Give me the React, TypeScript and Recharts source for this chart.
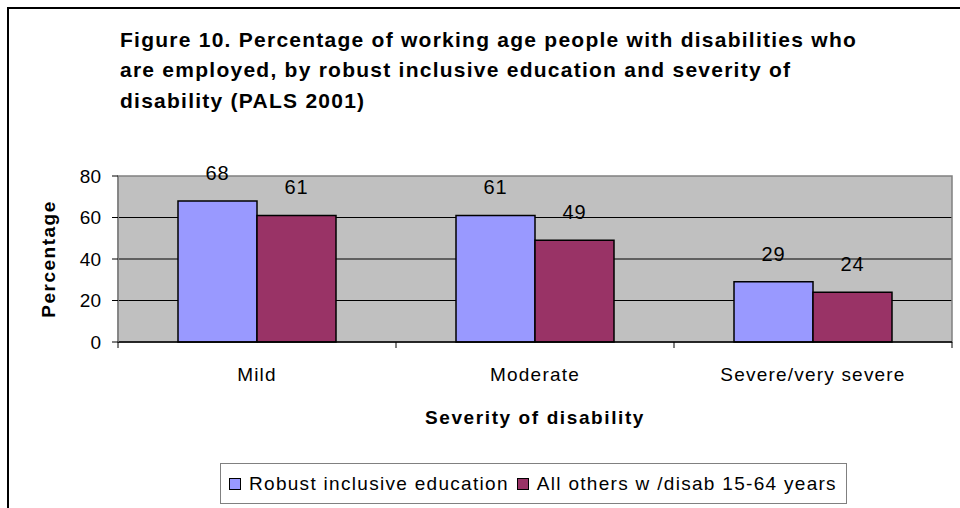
import { BarChart, Bar, XAxis, YAxis, CartesianGrid, ReferenceArea, LabelList, Legend } from 'recharts';

const severity = ['Mild', 'Moderate', 'Severe/very severe'];
const robustInclusive = [68, 61, 29];
const allOthers = [61, 49, 24];
const yTicks = [0, 20, 40, 60, 80];
const seriesNames = ['Robust inclusive education', 'All others w /disab 15-64 years'];

const data = severity.map((s, i) => ({ severity: s, robust: robustInclusive[i], others: allOthers[i] }));

const W = 960;
const H = 508;
const MARGIN = { top: 176, right: 8, bottom: 95, left: 58 };
const Y_W = 60;
const X_H = 30;
const BAND = (W - MARGIN.left - Y_W - MARGIN.right) / severity.length;
const FONT = '"Liberation Sans", Arial, sans-serif';

// category labels sit in the middle, tick marks on the band edges (Excel style)
function SeverityTick(props: any) {
  const { x, y, payload, index } = props;
  const half = BAND / 2;
  return (
    <g>
      <line x1={x - half} y1={y} x2={x - half} y2={y + 6} stroke="#000" />
      {index === severity.length - 1 && <line x1={x + half} y1={y} x2={x + half} y2={y + 6} stroke="#000" />}
      <text x={x} y={y + 39} textAnchor="middle" fontSize={19} letterSpacing={1.2} fill="#000">
        {payload.value}
      </text>
    </g>
  );
}

function LegendBox({ payload }: any) {
  // keep series order instead of the default alphabetical sort
  const items = [...(payload || [])].sort(
    (a: any, b: any) => seriesNames.indexOf(a.value) - seriesNames.indexOf(b.value)
  );
  return (
    <div
      style={{
        boxSizing: 'border-box',
        height: 41,
        width: 627,
        border: '1.5px solid #808080',
        background: '#fff',
        display: 'flex',
        alignItems: 'center',
        paddingLeft: 8,
        fontSize: 19,
        letterSpacing: 1.3,
        fontFamily: FONT,
        color: '#000',
        whiteSpace: 'nowrap',
      }}
    >
      {items.map((entry: any) => (
        <span key={entry.value} style={{ display: 'inline-flex', alignItems: 'center', marginRight: 8 }}>
          <span
            style={{
              display: 'inline-block',
              boxSizing: 'border-box',
              width: 12,
              height: 12,
              border: '1.5px solid #000',
              background: entry.color,
              marginRight: 8,
            }}
          />
          {entry.value}
        </span>
      ))}
    </div>
  );
}

export default function App() {
  return (
    <div style={{ position: 'absolute', left: 0, top: 0, width: W, height: H, overflow: 'hidden', background: '#fff', fontFamily: FONT }}>
      <div style={{ position: 'absolute', left: 7, top: 7, width: 1000, height: 600, border: '2px solid #000' }} />
      <div
        style={{
          position: 'absolute',
          left: 120,
          top: 24.5,
          fontSize: 21,
          fontWeight: 'bold',
          letterSpacing: 1.25,
          lineHeight: '30.5px',
          color: '#000',
          zIndex: 2,
          whiteSpace: 'nowrap',
        }}
      >
        Figure 10. Percentage of working age people with disabilities who
        <br />
        are employed, by robust inclusive education and severity of
        <br />
        disability (PALS 2001)
      </div>
      <div style={{ position: 'absolute', left: 0, top: 0 }}>
        <BarChart width={W} height={H} data={data} margin={MARGIN} barGap={0} style={{ fontFamily: FONT }}>
          <CartesianGrid vertical={false} horizontalValues={[20, 40, 60]} stroke="#000" fill="#C0C0C0" fillOpacity={1} />
          <ReferenceArea y1={0} y2={80} fill="none" stroke="#808080" strokeWidth={1.5} ifOverflow="visible" />
          <XAxis
            dataKey="severity"
            height={X_H}
            tickLine={false}
            tickSize={0}
            tickMargin={0}
            interval={0}
            tick={<SeverityTick />}
            axisLine={{ stroke: '#000', strokeWidth: 1.5 }}
            label={{
              content: (p: any) => (
                <text
                  x={p.viewBox.x + p.viewBox.width / 2}
                  y={424}
                  textAnchor="middle"
                  fontSize={19}
                  fontWeight="bold"
                  letterSpacing={1.6}
                  fill="#000"
                >
                  Severity of disability
                </text>
              ),
            }}
          />
          <YAxis
            width={Y_W}
            domain={[0, 80]}
            ticks={yTicks}
            interval={0}
            tick={{ fill: '#000', fontSize: 19 }}
            tickSize={6}
            tickMargin={11}
            tickLine={{ stroke: '#000' }}
            axisLine={{ stroke: '#808080', strokeWidth: 1.5 }}
            label={{
              content: (p: any) => {
                const cy = p.viewBox.y + p.viewBox.height / 2;
                return (
                  <text
                    x={55}
                    y={cy}
                    transform={`rotate(-90, 55, ${cy})`}
                    textAnchor="middle"
                    fontSize={19}
                    fontWeight="bold"
                    letterSpacing={1.5}
                    fill="#000"
                  >
                    Percentage
                  </text>
                );
              },
            }}
          />
          <Legend content={<LegendBox />} wrapperStyle={{ left: 220, top: 463, width: 627 }} />
          <Bar dataKey="robust" name={seriesNames[0]} fill="#9999FF" stroke="#000" strokeWidth={1.5} barSize={79} isAnimationActive={false}>
            <LabelList dataKey="robust" position="top" offset={21} fill="#000" fontSize={20} letterSpacing={0.8} />
          </Bar>
          <Bar dataKey="others" name={seriesNames[1]} fill="#993366" stroke="#000" strokeWidth={1.5} barSize={79} isAnimationActive={false}>
            <LabelList dataKey="others" position="top" offset={21} fill="#000" fontSize={20} letterSpacing={0.8} />
          </Bar>
        </BarChart>
      </div>
    </div>
  );
}
